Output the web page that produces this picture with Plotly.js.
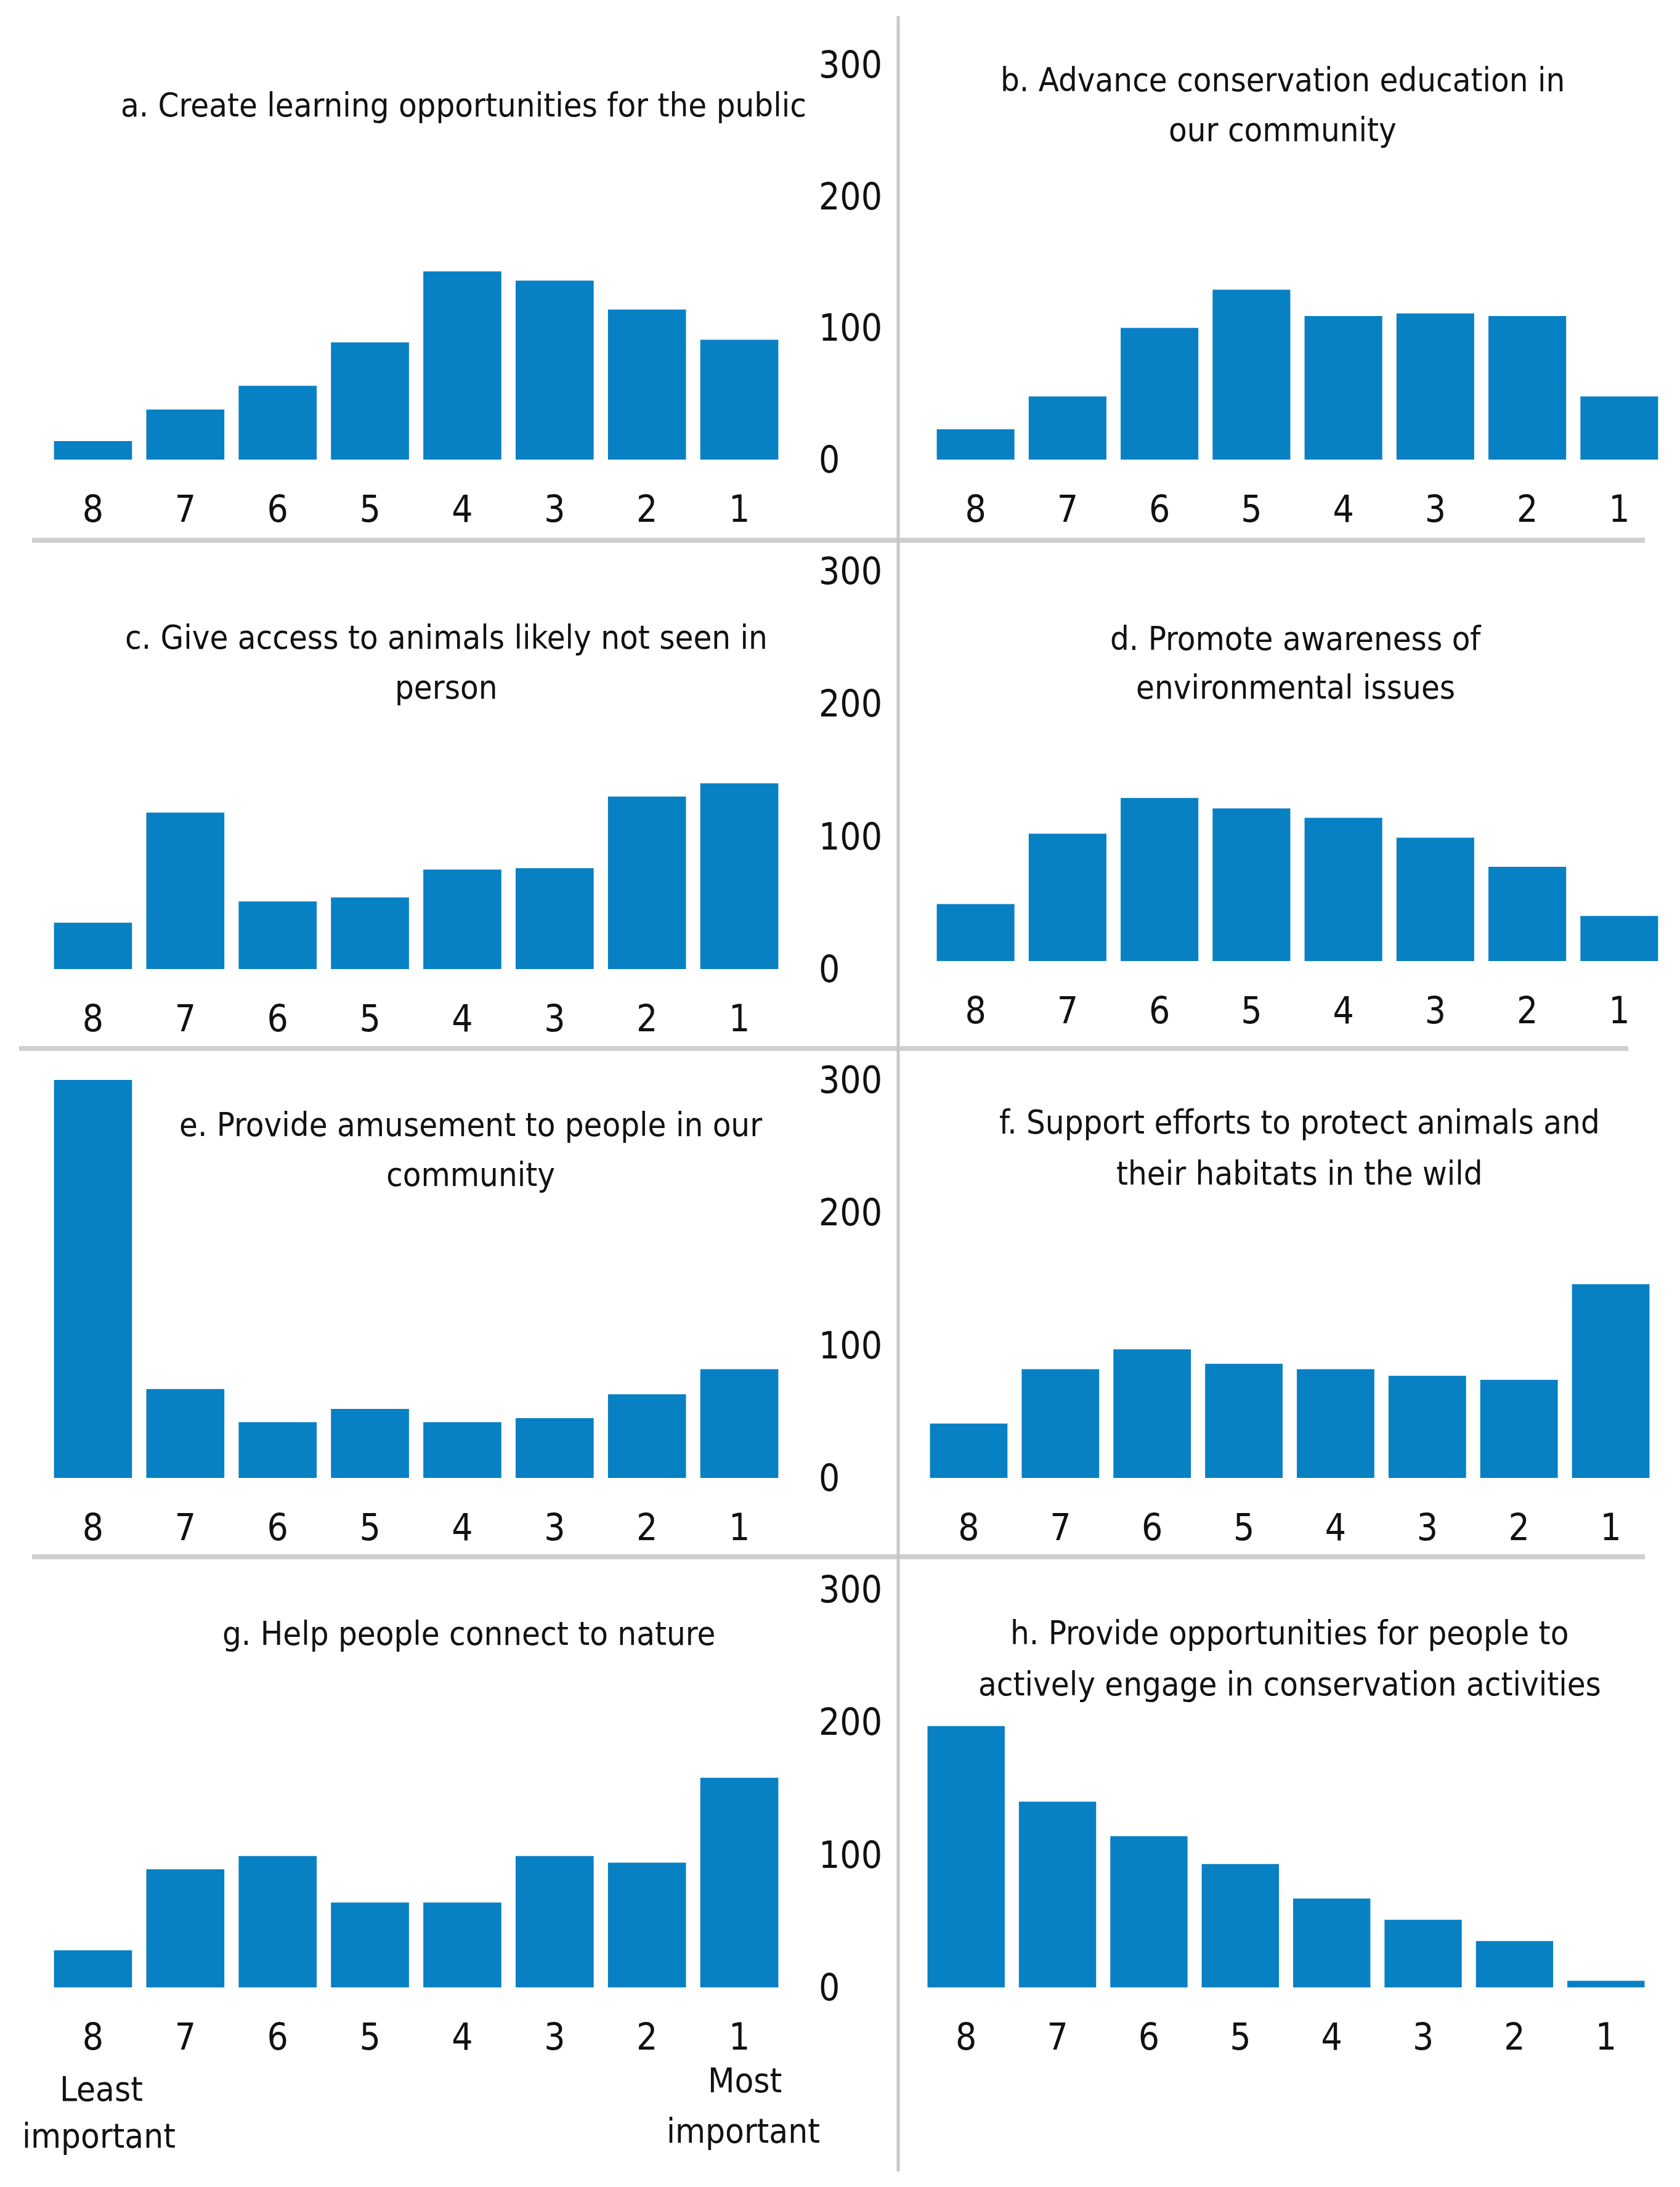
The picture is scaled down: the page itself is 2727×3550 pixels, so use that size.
<!DOCTYPE html>
<html>
<head>
<meta charset="utf-8">
<script src="https://cdn.plot.ly/plotly-3.0.1.min.js"></script>
<style>html,body{margin:0;padding:0;background:#fff;}#chart{width:2727px;height:3550px;}</style>
</head>
<body>
<div id="chart"></div>
<script>
// ---- Data ----
const categories = ['8','7','6','5','4','3','2','1'];
const yTickValues = [0, 100, 200, 300];
const aValues = [14, 38, 56, 89, 143, 136, 114, 91];
const bValues = [23, 48, 100, 129, 109, 111, 109, 48];
const cValues = [35, 118, 51, 54, 75, 76, 130, 140];
const dValues = [43, 96, 123, 115, 108, 93, 71, 34];
const eValues = [300, 67, 42, 52, 42, 45, 63, 82];
const fValues = [41, 82, 97, 86, 82, 77, 74, 146];
const gValues = [28, 89, 99, 64, 64, 99, 94, 158];
const hValues = [197, 140, 114, 93, 67, 51, 35, 5];
const titles = [
  'a. Create learning opportunities for the public',
  'b. Advance conservation education in<br>our community',
  'c. Give access to animals likely not seen in<br>person',
  'd. Promote awareness of<br>environmental issues',
  'e. Provide amusement to people in our<br>community',
  'f. Support efforts to protect animals and<br>their habitats in the wild',
  'g. Help people connect to nature',
  'h. Provide opportunities for people to<br>actively engage in conservation activities'
];
const leastLabel = 'Least<br>important';
const mostLabel = 'Most<br>important';

// ---- Layout helpers ----
const W = 2727, H = 3550;
const px = v => v / W;
const py = v => 1 - v / H;
const FONT = 'DejaVu Sans Condensed, Liberation Sans Narrow, sans-serif';
const BAR = '#0880c4';
const TXT = '#111';

// panel geometry (pixel positions); ty = centre of each title line
const panels = [
  {vals: aValues, x0: 76,   x1: 1275, base: 746,  top: 105,  left: true,  tx: 752,  ty: [171]},
  {vals: bValues, x0: 1509, x1: 2703, base: 746,  top: 105,  left: false, tx: 2082, ty: [129, 211]},
  {vals: cValues, x0: 76,   x1: 1275, base: 1573, top: 927,  left: true,  tx: 724,  ty: [1034, 1115]},
  {vals: dValues, x0: 1509, x1: 2703, base: 1560, top: 914,  left: false, tx: 2103, ty: [1036, 1115]},
  {vals: eValues, x0: 76,   x1: 1275, base: 2399, top: 1753, left: true,  tx: 764,  ty: [1825, 1906]},
  {vals: fValues, x0: 1498, x1: 2689, base: 2399, top: 1753, left: false, tx: 2109, ty: [1822, 1904]},
  {vals: gValues, x0: 76,   x1: 1275, base: 3226, top: 2580, left: true,  tx: 761,  ty: [2651]},
  {vals: hValues, x0: 1494, x1: 2681, base: 3226, top: 2580, left: false, tx: 2093, ty: [2650, 2733]}
];

const data = [];
const layout = {
  width: W, height: H,
  margin: {l: 0, r: 0, t: 0, b: 0},
  paper_bgcolor: '#fff', plot_bgcolor: 'rgba(0,0,0,0)',
  showlegend: false,
  bargap: 0.155,
  font: {family: FONT, color: TXT, size: 56},
  annotations: [],
  shapes: []
};

const note = (text, x, y, size) => ({
  xref: 'paper', yref: 'paper', x: px(x), y: py(y),
  xanchor: 'center', yanchor: 'middle', showarrow: false, align: 'center',
  text: text, font: {family: FONT, size: size, color: TXT}
});

panels.forEach((p, i) => {
  const n = i + 1;
  const xa = 'xaxis' + (n === 1 ? '' : n);
  const ya = 'yaxis' + (n === 1 ? '' : n);
  const xr = 'x' + (n === 1 ? '' : n);
  const yr = 'y' + (n === 1 ? '' : n);
  data.push({
    type: 'bar', x: categories, y: p.vals, xaxis: xr, yaxis: yr,
    marker: {color: BAR}, hoverinfo: 'skip'
  });
  layout[xa] = {
    domain: [px(p.x0), px(p.x1)], anchor: yr,
    type: 'category', categoryorder: 'array', categoryarray: categories,
    showgrid: false, zeroline: false, showline: false,
    ticks: 'outside', ticklen: 28, tickcolor: 'rgba(0,0,0,0)',
    tickfont: {family: FONT, size: 60, color: TXT}
  };
  const yaxis = {
    domain: [py(p.base), py(p.top)], range: [0, 300],
    anchor: xr, showgrid: false, zeroline: false, showline: false, fixedrange: true
  };
  if (p.left) {
    Object.assign(yaxis, {
      anchor: 'free', side: 'right', position: px(1328),
      tickvals: yTickValues, ticks: '', showticklabels: true,
      tickfont: {family: FONT, size: 60, color: TXT}
    });
  } else {
    Object.assign(yaxis, {showticklabels: false, ticks: ''});
  }
  layout[ya] = yaxis;
  titles[i].split('<br>').forEach((line, k) => {
    layout.annotations.push(note(line, p.tx, p.ty[k], 54));
  });
});

const leastLines = leastLabel.split('<br>');
const mostLines = mostLabel.split('<br>');
layout.annotations.push(note(leastLines[0], 164, 3390, 56));
layout.annotations.push(note(leastLines[1], 160, 3466, 56));
layout.annotations.push(note(mostLines[0], 1209, 3376, 56));
layout.annotations.push(note(mostLines[1], 1206, 3458, 56));

// dividers
const hLine = (x0, x1, y) => ({type: 'line', xref: 'paper', yref: 'paper',
  x0: px(x0), x1: px(x1), y0: py(y), y1: py(y), line: {color: '#cfcfcf', width: 8}});
layout.shapes.push(hLine(52, 2670, 877));
layout.shapes.push(hLine(31, 2643, 1702));
layout.shapes.push(hLine(52, 2670, 2527));
layout.shapes.push({type: 'line', xref: 'paper', yref: 'paper',
  x0: px(1458), x1: px(1458), y0: py(26), y1: py(3525), line: {color: '#c8c8c8', width: 5}});

Plotly.newPlot('chart', data, layout, {staticPlot: true, displayModeBar: false});
</script>
</body>
</html>
